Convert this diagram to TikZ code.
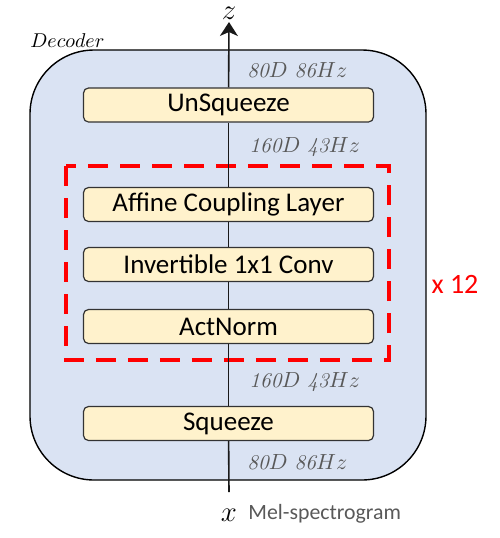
\documentclass[tikz,border=0pt]{standalone}
\usepackage{fontspec}
\setsansfont{Carlito}
\usetikzlibrary{arrows.meta,positioning}
\definecolor{decfill}{RGB}{218,227,243}
\definecolor{layfill}{RGB}{255,242,204}
\definecolor{lblgray}{RGB}{89,89,89}
\tikzset{
  layer/.style={draw=black!80,fill=layfill,rounded corners=2.5pt,line width=0.6pt,
    minimum width=145pt,minimum height=17pt,inner sep=0pt,
    font=\sffamily\fontsize{13.5}{15}\selectfont},
  dimlbl/.style={anchor=west,inner sep=0pt,text=lblgray,font=\fontsize{10.5}{12}\selectfont},
  flow/.style={line width=0.8pt,black!90},
}
\begin{document}
\begin{tikzpicture}[x=0.5pt,y=-0.5pt]
  \useasboundingbox (0,0) rectangle (500,538);

  % decoder block
  \draw [fill=decfill,line width=0.7pt,rounded corners=32pt] (30,50) rectangle (426,480);
  \node [anchor=south west,inner sep=0pt,font=\fontsize{10}{12}\selectfont] (dec) at (30,48) {$Decoder$};

  % repeated flow steps
  \draw [red,line width=2pt,dash pattern=on 10pt off 6pt] (66,166) rectangle (389,360);
  \node [red,font=\sffamily\fontsize{14}{16}\selectfont] (rep) at (455,284) {x 12};

  \coordinate (xin) at (229,492);
  \coordinate (zout) at (229,22);

  \node [layer] (unsq) at (228.5,105) {UnSqueeze};
  \node [layer] (acl)  at (228.5,204.5) {Affine Coupling Layer};
  \node [layer] (inv)  at (228.5,264.5) {Invertible 1x1 Conv};
  \node [layer] (act)  at (228.5,326.5) {ActNorm};
  \node [layer] (sq)   at (228.5,423.5) {Squeeze};

  \draw [flow] (xin) -- (sq);
  \draw [flow] (sq) -- (act);
  \draw [flow] (act) -- (inv);
  \draw [flow] (inv) -- (acl);
  \draw [flow] (acl) -- (unsq);
  \draw [flow,-{Stealth[length=7pt,width=9pt,inset=2pt]}] (unsq) -- (zout);

  \node [font=\fontsize{14}{16}\selectfont,inner sep=0pt] (z) at (229,13) {$z$};
  \node [font=\fontsize{14}{16}\selectfont,inner sep=0pt] (x) at (229,515) {$x$};
  \node [anchor=west,inner sep=0pt,text=lblgray,font=\sffamily\fontsize{10.9}{13}\selectfont] (mel) at (248,514) {Mel-spectrogram};

  % shapes between steps
  \node [dimlbl] (d1) at (247,70)  {$\mathit{80}D~\mathit{86}Hz$};
  \node [dimlbl] (d2) at (249,147) {$\mathit{160}D~\mathit{43}Hz$};
  \node [dimlbl] (d3) at (249,382) {$\mathit{160}D~\mathit{43}Hz$};
  \node [dimlbl] (d4) at (247,462) {$\mathit{80}D~\mathit{86}Hz$};
\end{tikzpicture}
\end{document}
